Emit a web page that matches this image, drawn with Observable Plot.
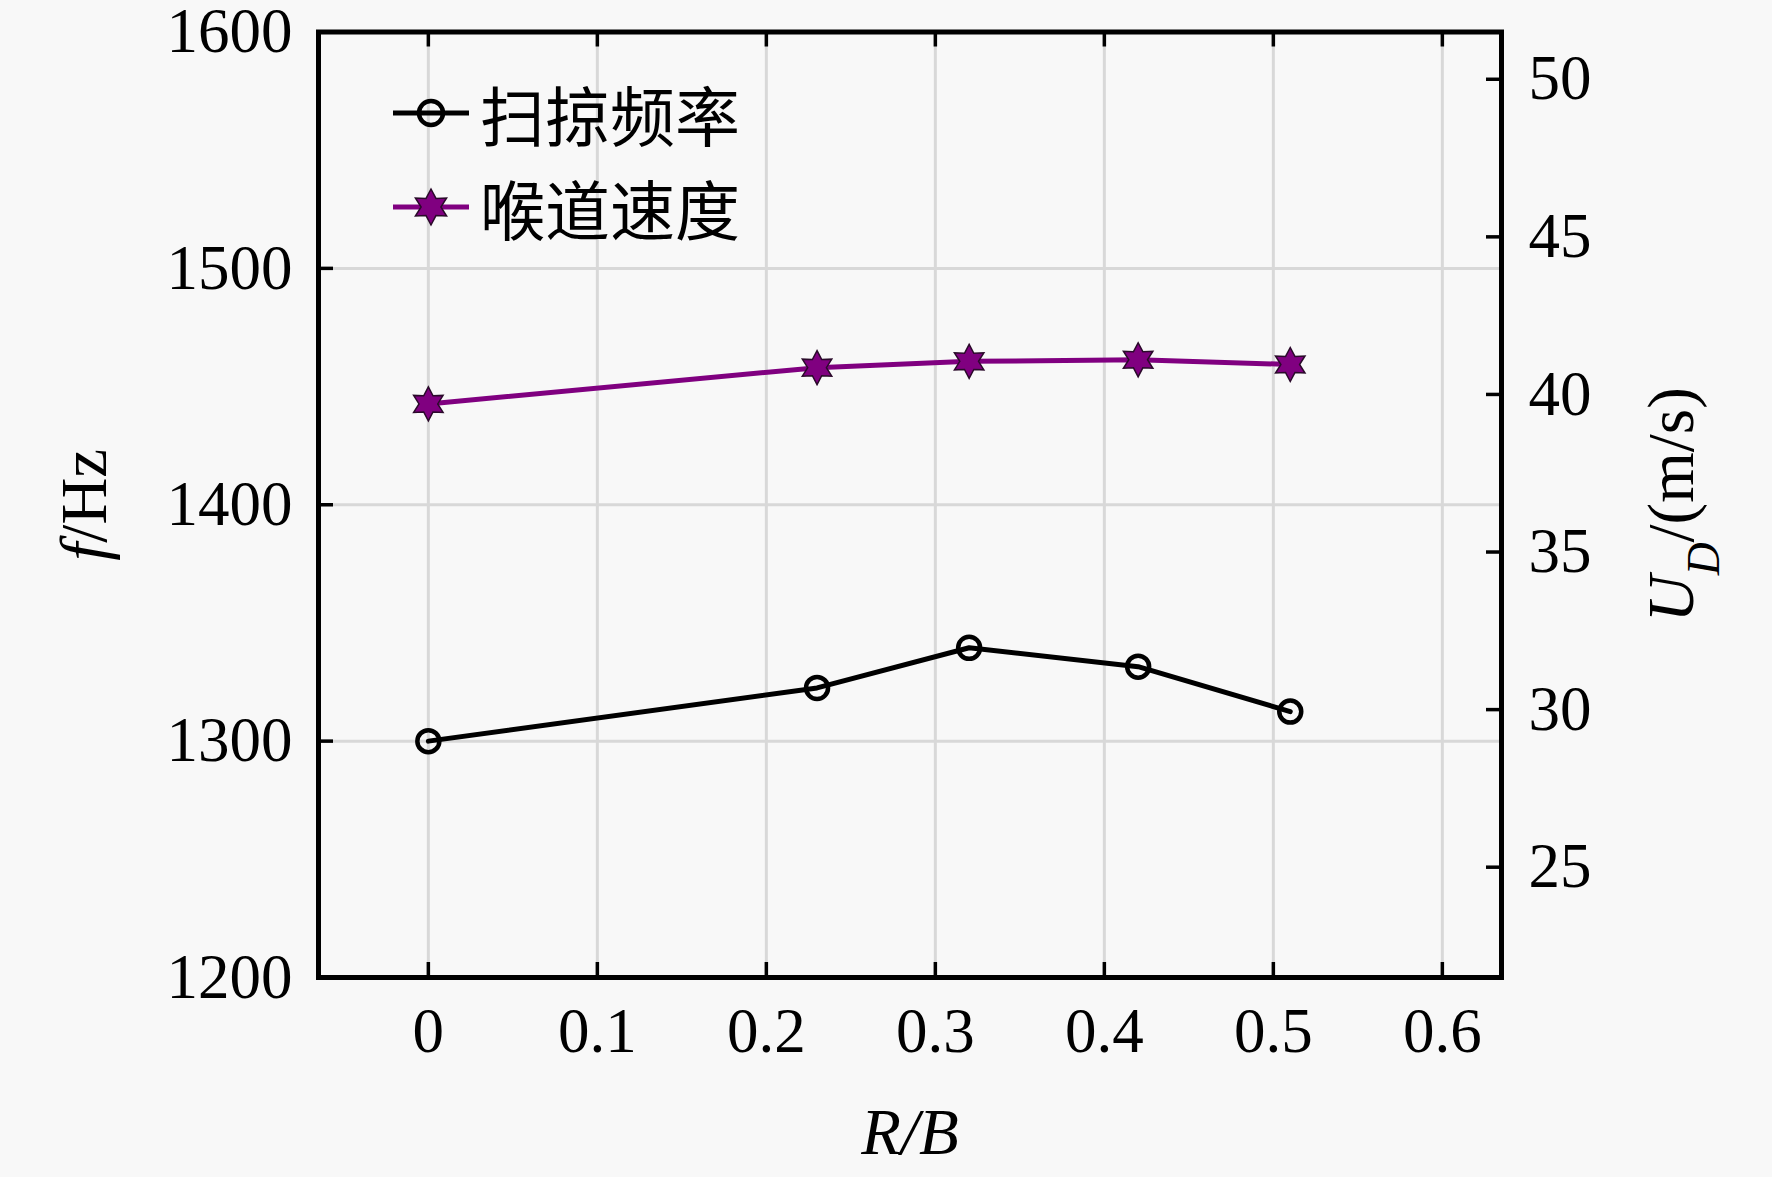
<!DOCTYPE html>
<html><head><meta charset="utf-8">
<script src="https://cdn.jsdelivr.net/npm/d3@7"></script>
<script src="https://cdn.jsdelivr.net/npm/@observablehq/plot@0.6"></script>
<style>
html,body{margin:0;padding:0;background:#f8f8f8;}
#wrap{position:relative;width:1772px;height:1177px;}
#legend{position:absolute;left:393px;top:66px;font-family:"Noto Sans CJK SC",sans-serif;font-size:65px;color:#000;}
.item{display:flex;align-items:center;height:94px;}
.item span{margin-left:11px;line-height:1;}
</style></head>
<body><div id="wrap"><div id="chart"></div><div id="legend"></div></div>
<script>
// ---- data ----
const ratio = [0, 0.23, 0.32, 0.42, 0.51];              // R/B
const sweepFreq = [1300, 1322.5, 1339.5, 1331.5, 1312.5]; // f / Hz (left axis)
const throatSpeed = [39.7, 40.85, 41.05, 41.1, 40.95];    // U_D / (m/s) (right axis)
const seriesNames = ["扫掠频率", "喉道速度"];
const xTicks = [0, 0.1, 0.2, 0.3, 0.4, 0.5, 0.6];
const yTicks = [1200, 1300, 1400, 1500, 1600];
const yGrid = [1300, 1400, 1500];
const y2Ticks = [25, 30, 35, 40, 45, 50];
const xDomain = [-0.065, 0.635];
const yDomain = [1200, 1600];
const y2Domain = [21.5, 51.5];

// ---- layout ----
const W = 1772, H = 1177, mL = 318, mR = 271, mT = 31.5, mB = 200;
const fw = W - mL - mR, fh = H - mT - mB;
const FS = 63;
const toLeft = d3.scaleLinear(y2Domain, yDomain);

const freqData = ratio.map((x, i) => ({x, f: sweepFreq[i]}));
const speedData = ratio.map((x, i) => ({x, v: throatSpeed[i], yv: toLeft(throatSpeed[i])}));

const hexagram = {
  draw(ctx, size) {
    const R = Math.sqrt(size / Math.PI), r = R * 0.55;
    for (let k = 0; k < 12; k++) {
      const a = -Math.PI / 2 + k * Math.PI / 6, rr = k % 2 ? r : R;
      const px = rr * Math.cos(a), py = rr * Math.sin(a);
      k ? ctx.lineTo(px, py) : ctx.moveTo(px, py);
    }
    ctx.closePath();
  }
};

const purple = "#800080";
const serif = "'Liberation Serif','Times New Roman',serif";
const axisText = {fontSize: FS, fontFamily: serif, fontVariant: "normal"};

const chart = Plot.plot({
  width: W, height: H, marginLeft: mL, marginRight: mR, marginTop: mT, marginBottom: mB,
  style: {background: "#f8f8f8", fontFamily: serif, fontSize: FS + "px", color: "black"},
  x: {domain: xDomain},
  y: {domain: yDomain},
  marks: [
    Plot.gridX(xTicks, {stroke: "#d8d8d8", strokeOpacity: 1, strokeWidth: 3}),
    Plot.gridY(yGrid, {stroke: "#d8d8d8", strokeOpacity: 1, strokeWidth: 3}),
    Plot.tickX(xTicks, {x: d => d, insetTop: fh - 15, stroke: "black", strokeWidth: 3.5}),
    Plot.tickX(xTicks, {x: d => d, insetBottom: fh - 15, stroke: "black", strokeWidth: 3.5}),
    Plot.tickY(yTicks, {y: d => d, insetRight: fw - 15, stroke: "black", strokeWidth: 3.5}),
    Plot.tickY(y2Ticks.map(toLeft), {y: d => d, insetLeft: fw - 15, stroke: "black", strokeWidth: 3.5}),
    Plot.axisX(xTicks, {tickSize: 0, tickPadding: 30, label: null, ...axisText, tickFormat: d => String(d)}),
    Plot.axisY(yTicks, {anchor: "left", tickSize: 0, tickPadding: 26, label: null, ...axisText, tickFormat: d => String(d)}),
    Plot.axisY(y2Ticks.map(toLeft), {anchor: "right", tickSize: 0, tickPadding: 27, label: null, ...axisText,
      tickFormat: d => String(Math.round(toLeft.invert(d)))}),
    Plot.line(freqData, {x: "x", y: "f", stroke: "black", strokeWidth: 5}),
    Plot.dot(freqData, {x: "x", y: "f", r: 11, stroke: "black", strokeWidth: 4.5, fill: "none"}),
    Plot.line(speedData, {x: "x", y: "yv", stroke: purple, strokeWidth: 5}),
    Plot.dot(speedData, {x: "x", y: "yv", r: 17, symbol: hexagram, fill: purple, stroke: "#2a0a2a", strokeWidth: 1.5}),
    Plot.frame({stroke: "black", strokeWidth: 5}),
    Plot.text(["R/B"], {frameAnchor: "bottom", dy: 156, textAnchor: "middle", lineAnchor: "middle", fontSize: FS + 2, fontStyle: "italic", fontFamily: serif}),
    Plot.text(["f/Hz"], {frameAnchor: "left", dx: -233, rotate: -90, textAnchor: "middle", lineAnchor: "middle", fontSize: FS + 2, fontFamily: serif}),
    Plot.text(["UD/(m/s)"], {frameAnchor: "right", dx: 171, rotate: -90, textAnchor: "middle", lineAnchor: "middle", fontSize: FS + 2, fontFamily: serif})
  ]
});
document.getElementById("chart").appendChild(chart);

const svg = d3.select(chart);
svg.selectAll("text").filter(function() { return this.textContent === "f/Hz"; })
  .html('<tspan font-style="italic">f</tspan>/Hz');
svg.selectAll("text").filter(function() { return this.textContent === "UD/(m/s)"; })
  .html('<tspan font-style="italic">U</tspan><tspan font-style="italic" font-size="0.7em" baseline-shift="sub">D</tspan>/(m/s)');

// ---- legend ----
const legend = d3.select("#legend");
const items = [
  {name: seriesNames[0], color: "black", kind: "circle"},
  {name: seriesNames[1], color: purple, kind: "star"}
];
items.forEach(it => {
  const row = legend.append("div").attr("class", "item");
  const s = row.append("svg").attr("width", 76).attr("height", 40);
  s.append("line").attr("x1", 0).attr("x2", 76).attr("y1", 20).attr("y2", 20)
    .attr("stroke", it.color).attr("stroke-width", 5);
  if (it.kind === "circle") {
    s.append("circle").attr("cx", 38).attr("cy", 20).attr("r", 12)
      .attr("fill", "none").attr("stroke", "black").attr("stroke-width", 4.5);
  } else {
    s.append("path").attr("transform", "translate(38,20)")
      .attr("d", d3.symbol(hexagram, 18 * 18 * Math.PI)())
      .attr("fill", purple).attr("stroke", "#2a0a2a").attr("stroke-width", 1.5);
  }
  row.append("span").text(it.name);
});
</script>
</body></html>
